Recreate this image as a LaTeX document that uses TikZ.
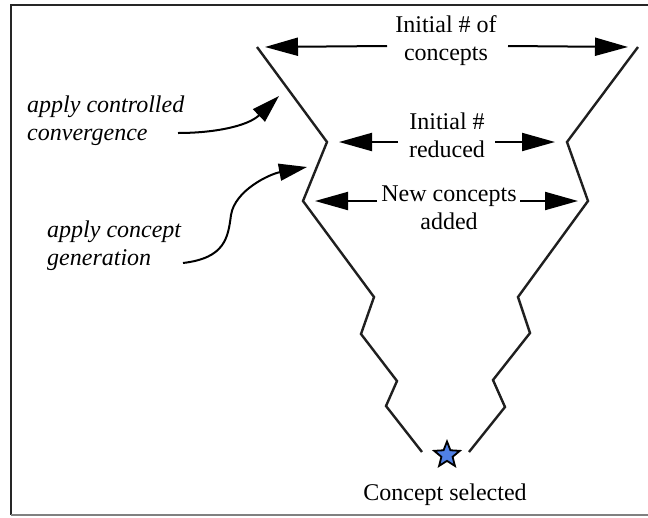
\documentclass[tikz,border=0pt]{standalone}
\usepackage{fontspec}
\setmainfont{Liberation Serif}
\usetikzlibrary{arrows.meta,shapes.geometric}
\definecolor{starblue}{RGB}{80,128,228}
\begin{document}
\begin{tikzpicture}[x=1pt,y=-1pt,
  funnel/.style={line width=2.4pt, draw=black!88, line join=miter},
  harrow/.style={line width=2pt, -{Triangle[length=33pt,width=18pt]}},
  carrow/.style={line width=2pt, -{Triangle[length=28pt,width=17pt]}},
  lbl/.style={font=\fontsize{24}{28}\selectfont, align=center, inner sep=0pt},
  ilbl/.style={font=\fontsize{24}{28}\selectfont\itshape, align=left, inner sep=0pt},
]
\useasboundingbox (0,0) rectangle (648,517);
% frame
\draw[black!85, line width=2.5pt] (11,515) -- (11,5) -- (648,5);
\draw[black!50, line width=1.5pt] (11,515) -- (648,515);
% funnel
\draw[funnel] (257,47) -- (327,142) -- (303,201) -- (374,297) -- (361,334)
  -- (397,381) -- (386,406) -- (422,452);
\draw[funnel] (638,47) -- (567,142) -- (588,201) -- (518,297) -- (530,333)
  -- (493,380) -- (505,407) -- (469,452);
% labels
\node[lbl, anchor=base] (top) at (446,60) {Initial \# of\\concepts};
\node[lbl, anchor=base] (mid) at (447,157) {Initial \#\\reduced};
\node[lbl, anchor=base] (new) at (449,229) {New concepts\\added};
\node[lbl, anchor=base] (sel) at (445,500) {Concept selected};
\node[ilbl, anchor=base west] (conv) at (27,140) {apply controlled\\convergence};
\node[ilbl, anchor=base west] (gen) at (47,265) {apply concept\\generation};
% arrow end points
\coordinate (t1a) at (387,46); \coordinate (t1b) at (265,47);
\coordinate (t2a) at (508,46); \coordinate (t2b) at (628,47);
\coordinate (m1a) at (398,142); \coordinate (m1b) at (339,142);
\coordinate (m2a) at (495,142); \coordinate (m2b) at (555,142);
\coordinate (n1a) at (377,201); \coordinate (n1b) at (315,201);
\coordinate (n2a) at (520,201); \coordinate (n2b) at (578,201);
\coordinate (c1a) at (178,133); \coordinate (c1b) at (279,96);
\coordinate (c2a) at (183,263); \coordinate (c2b) at (307,167);
\draw[harrow] (t1a) -- (t1b);
\draw[harrow] (t2a) -- (t2b);
\draw[harrow] (m1a) -- (m1b);
\draw[harrow] (m2a) -- (m2b);
\draw[harrow] (n1a) -- (n1b);
\draw[harrow] (n2a) -- (n2b);
\draw[carrow] (c1a) .. controls (215,133) and (248,126) .. (c1b);
\draw[carrow] (c2a) .. controls (225,258) and (228,238) .. (231,215)
  .. controls (235,190) and (270,174) .. (c2b);
% star
\node[star, star points=5, star point ratio=2.3, minimum size=27pt, inner sep=0pt,
  draw=black, line width=1.8pt, fill=starblue] (star) at (447,455) {};
\end{tikzpicture}
\end{document}
